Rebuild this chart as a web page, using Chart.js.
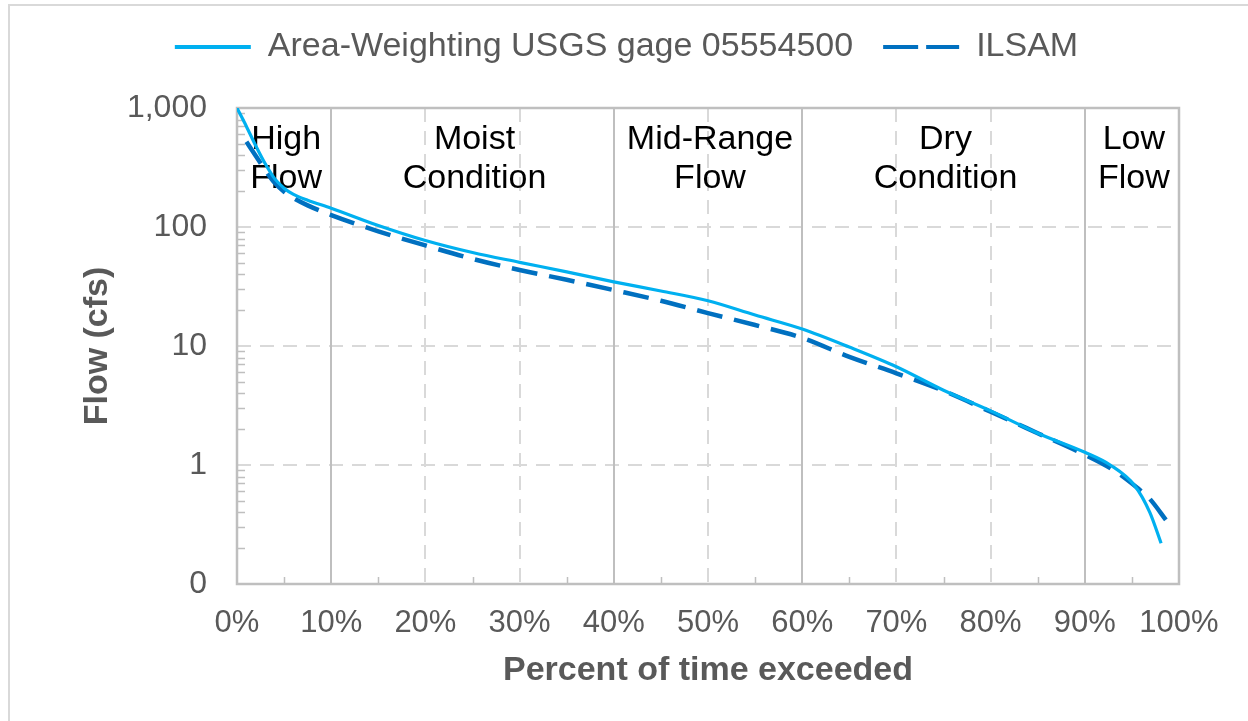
<!DOCTYPE html>
<html>
<head>
<meta charset="utf-8">
<script src="https://cdn.jsdelivr.net/npm/chart.js@4.4.1/dist/chart.umd.min.js"></script>
<style>
  html, body { margin: 0; padding: 0; background: #fff; }
  #wrap { position: relative; width: 1248px; height: 721px; overflow: hidden; }
  #frame { position: absolute; left: 8px; top: 4px; width: 1400px; height: 900px; border: 2px solid #d9d9d9; }
  canvas { position: absolute; left: 0; top: 0; }
</style>
</head>
<body>
<div id="wrap">
  <div id="frame"></div>
  <canvas id="flowChart" width="1248" height="721"></canvas>
</div>
<script>
// Flow duration curves
const awPercent = [0, 1, 2, 3, 4, 5, 6, 7.5, 10, 15, 20, 25, 30, 35, 40, 45, 50, 55, 60, 65, 70, 75, 80, 85, 90, 92.7, 95.3, 96.9, 98.1]
const awFlow = [1000, 700, 480, 340, 255, 212, 188, 168, 144, 103, 77, 61, 50.5, 42, 34.6, 29, 24, 18.2, 13.9, 9.8, 6.7, 4.25, 2.85, 1.85, 1.28, 1.0, 0.67, 0.4, 0.22]

const ilPercent = [1, 2, 3, 4, 5, 6, 7.5, 10, 15, 20, 25, 30, 35, 40, 45, 50, 55, 60, 65, 70, 75, 80, 85, 90, 93, 95.6, 96.8, 98.8]
const ilFlow = [520, 395, 300, 235, 198, 175, 152, 126, 92, 70, 54, 43.5, 36, 29.5, 24, 18.9, 15, 11.7, 8.1, 5.9, 4.2, 2.8, 1.85, 1.22, 0.91, 0.64, 0.53, 0.33]

const yTicks = [0.1, 1, 10, 100, 1000]
const yTickLabels = ["0", "1", "10", "100", "1,000"]
const zoneBounds = [10, 40, 60, 90]
const dashedGrid = [20, 30, 50, 70, 80]
const zoneCenters = [5, 25, 50, 75, 95]
const zoneLabels = [["High", "Flow"], ["Moist", "Condition"], ["Mid-Range", "Flow"], ["Dry", "Condition"], ["Low", "Flow"]]

const FONT = "'Liberation Sans', Arial, sans-serif"
const GRAY_TEXT = "#595959"
const AXIS_GRAY = "#bfbfbf"
const GRID_GRAY = "#d9d9d9"

Chart.defaults.font.family = FONT

const toPoints = (xs, ys) => xs.map((x, i) => ({ x: x, y: ys[i] }))

// frame, zone separators, minor ticks and zone labels
const decorPlugin = {
  id: "decor",
  beforeDatasetsDraw(chart) {
    const { ctx, chartArea: a, scales } = chart
    const x = scales.x
    const y = scales.y
    ctx.save()

    ctx.strokeStyle = AXIS_GRAY
    ctx.lineWidth = 2
    zoneBounds.forEach((v) => {
      const px = Math.round(x.getPixelForValue(v))
      ctx.beginPath()
      ctx.moveTo(px, a.top)
      ctx.lineTo(px, a.bottom)
      ctx.stroke()
    })

    // minor ticks on log axis
    ctx.lineWidth = 1.5
    for (let d = 0.1; d < 1000; d *= 10) {
      for (let k = 2; k <= 9; k++) {
        const py = Math.round(y.getPixelForValue(d * k)) + 0.5
        ctx.beginPath()
        ctx.moveTo(a.left, py)
        ctx.lineTo(a.left + 8, py)
        ctx.stroke()
      }
    }
    // minor ticks on percent axis
    for (let p = 5; p < 100; p += 10) {
      const px = Math.round(x.getPixelForValue(p)) + 0.5
      ctx.beginPath()
      ctx.moveTo(px, a.bottom)
      ctx.lineTo(px, a.bottom - 7)
      ctx.stroke()
    }

    ctx.lineWidth = 2.5
    ctx.strokeRect(a.left, a.top, a.right - a.left, a.bottom - a.top)

    ctx.fillStyle = "#000"
    ctx.font = "34px " + FONT
    ctx.textAlign = "center"
    ctx.textBaseline = "middle"
    zoneCenters.forEach((v, i) => {
      const px = x.getPixelForValue(v) + 2
      ctx.fillText(zoneLabels[i][0], px, a.top + 32)
      ctx.fillText(zoneLabels[i][1], px, a.top + 71)
    })
    ctx.restore()
  },
}

const legendDash = { "ILSAM": [35, 8] }

const ctx = document.getElementById("flowChart").getContext("2d")
const chart = new Chart(ctx, {
  type: "line",
  data: {
    datasets: [
      {
        label: "Area-Weighting USGS gage 05554500",
        data: toPoints(awPercent, awFlow),
        borderColor: "#00B0F0",
        backgroundColor: "#00B0F0",
        borderWidth: 3.2,
        pointRadius: 0,
        cubicInterpolationMode: "monotone",
      },
      {
        label: "ILSAM",
        data: toPoints(ilPercent, ilFlow),
        borderColor: "#0070C0",
        backgroundColor: "#0070C0",
        borderWidth: 4.5,
        borderDash: [26, 12],
        pointRadius: 0,
        cubicInterpolationMode: "monotone",
      },
    ],
  },
  options: {
    responsive: false,
    animation: false,
    layout: { padding: { left: 74, right: 69, top: 0, bottom: 0 } },
    plugins: {
      tooltip: { enabled: false },
      legend: {
        position: "top",
        labels: {
          color: GRAY_TEXT,
          font: { size: 34 },
          usePointStyle: true,
          pointStyle: "line",
          pointStyleWidth: 76,
          padding: 30,
          generateLabels: (c) =>
            c.data.datasets.map((ds, i) => ({
              text: ds.label,
              fillStyle: ds.borderColor,
              strokeStyle: ds.borderColor,
              fontColor: GRAY_TEXT,
              lineWidth: 4,
              lineDash: legendDash[ds.label] || [],
              pointStyle: "line",
              hidden: !c.isDatasetVisible(i),
              datasetIndex: i,
            })),
        },
      },
    },
    scales: {
      x: {
        type: "linear",
        min: 0,
        max: 100,
        afterFit: (scale) => { scale.height = 137 },
        ticks: {
          stepSize: 10,
          color: GRAY_TEXT,
          font: { size: 31 },
          padding: 21,
          maxRotation: 0,
          callback: (v) => v + "%",
        },
        grid: {
          drawTicks: false,
          lineWidth: 2,
          color: (c) => (c.tick && dashedGrid.includes(c.tick.value) ? GRID_GRAY : "rgba(0,0,0,0)"),
        },
        border: { display: false, dash: [14, 9] },
        title: {
          display: true,
          text: "Percent of time exceeded",
          color: GRAY_TEXT,
          font: { size: 34, weight: "bold" },
          padding: { top: 0, bottom: 30 },
        },
      },
      xTop: {
        type: "linear",
        position: "top",
        min: 0,
        max: 100,
        afterFit: (scale) => { scale.height = 34 },
        ticks: { display: false },
        grid: { display: false },
        border: { display: false },
      },
      y: {
        type: "logarithmic",
        min: 0.1,
        max: 1000,
        afterFit: (scale) => { scale.width = 163 },
        afterBuildTicks: (scale) => { scale.ticks = yTicks.map((v) => ({ value: v })) },
        ticks: {
          color: GRAY_TEXT,
          font: { size: 32 },
          padding: 30,
          callback: (v, i) => yTickLabels[i],
        },
        grid: {
          drawTicks: false,
          lineWidth: 2,
          color: (c) => (c.tick && c.tick.value > 0.5 && c.tick.value < 500 ? GRID_GRAY : "rgba(0,0,0,0)"),
        },
        border: { display: false, dash: [14, 9] },
        title: {
          display: true,
          text: "Flow (cfs)",
          color: GRAY_TEXT,
          font: { size: 34, weight: "bold" },
          padding: { top: 3, bottom: 0 },
        },
      },
    },
  },
  plugins: [decorPlugin],
})
</script>
</body>
</html>
